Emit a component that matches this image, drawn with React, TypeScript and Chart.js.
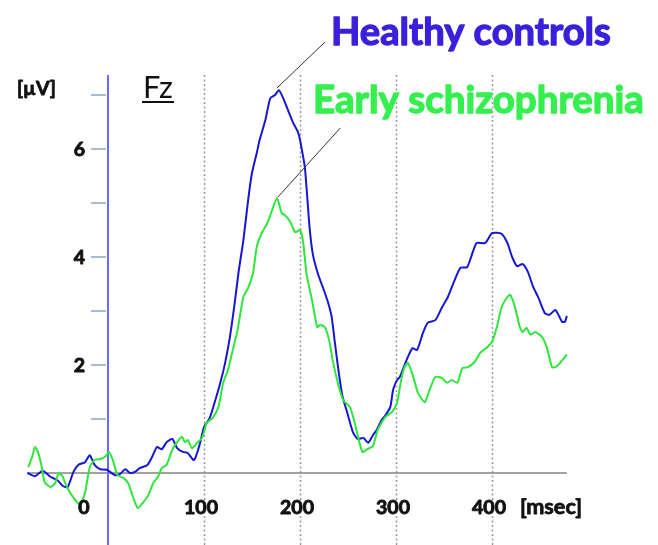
import React, { useEffect, useRef } from "react";
import { Chart, registerables } from "chart.js";

Chart.register(...registerables);

// ---- Data (ms, µV) ----
const timesHC = [
  -84, -76, -68, -60, -53, -47, -42, -36, -31, -24, -19, -14, -8, -1, 7, 12.5, 18, 23, 28, 33, 41, 46, 51, 56, 61, 67,
  72, 78, 83, 89, 91, 96, 100, 106, 111, 117, 122, 127, 132, 136, 141, 146, 150, 155, 158, 164, 169, 174, 178, 182,
  187.5, 193, 198, 200, 205, 207, 210, 213.5, 219, 224, 229, 233, 236, 240, 244, 249, 255, 260, 266, 271, 276, 280,
  285, 289, 294, 297, 301, 304, 307, 311, 317, 322, 328, 333, 341, 348, 354, 359, 367, 374, 379, 384, 393, 400, 410,
  416, 421, 426, 432, 437.5, 443, 448, 455, 460, 466, 473, 476, 478,
];
const healthy = [
  0, -0.06, 0.04, -0.07, -0.13, -0.24, -0.26, 0.02, 0.15, 0.2, 0.33, 0.15, 0.07, 0.06, -0.04, -0.02, 0.07, 0, 0.02,
  0.09, 0.15, 0.3, 0.48, 0.44, 0.57, 0.63, 0.46, 0.39, 0.37, 0.24, 0.28, 0.56, 0.85, 1.02, 1.3, 1.67, 2.04, 2.52, 3.15,
  3.72, 4.31, 5.06, 5.56, 5.93, 6.17, 6.54, 6.94, 7.0, 7.09, 6.96, 6.72, 6.48, 6.31, 6.17, 5.67, 5.24, 4.54, 4.04, 3.67,
  3.43, 3.17, 2.89, 2.46, 1.91, 1.44, 1.13, 0.76, 0.63, 0.65, 0.56, 0.7, 0.8, 0.98, 1.07, 1.22, 1.54, 1.72, 1.78, 1.91,
  2.09, 2.31, 2.28, 2.59, 2.78, 2.83, 3.07, 3.26, 3.48, 3.8, 3.81, 4.04, 4.26, 4.26, 4.44, 4.43, 4.26, 4.0, 3.83, 3.87,
  3.72, 3.44, 3.26, 2.96, 2.93, 3.02, 2.8, 2.8, 2.91,
];

const timesES = [
  -83, -79, -76, -73, -69, -66, -60, -55, -52, -48, -45, -40, -34, -29, -24, -19, -14, -8, -3, 1, 5, 10, 16, 21, 26,
  31, 36, 42, 47, 52, 56, 61, 67, 72, 77, 80, 83, 87.5, 93, 98, 103, 109, 115, 120, 125, 130, 135, 141, 146, 151, 155,
  160, 166, 171, 176, 181, 184, 190, 195, 200, 203, 207, 212.5, 218, 221, 226, 231, 234, 240, 245, 252, 257, 260, 265,
  270, 276, 281, 289, 296, 301, 306, 309, 312.5, 318, 323, 330, 335, 341, 348, 353, 358, 364, 369, 375, 382, 387.5,
  395, 400, 405, 410, 416, 419, 424, 429, 432, 436, 440, 445, 452, 457, 462.5, 466, 471, 478,
];
const early = [
  0.11, 0.3, 0.48, 0.39, 0.11, -0.17, -0.26, -0.19, -0.02, -0.04, -0.17, -0.35, -0.5, -0.59, -0.37, 0.11, 0.24, 0.26,
  0.3, 0.39, 0.24, -0.04, -0.09, -0.19, -0.44, -0.65, -0.56, -0.41, -0.19, -0.07, 0.09, 0.15, 0.43, 0.57, 0.67, 0.57,
  0.61, 0.46, 0.56, 0.65, 0.93, 1.02, 1.22, 1.67, 1.91, 2.28, 2.65, 3.26, 3.43, 3.7, 4.19, 4.44, 4.63, 4.87, 5.09, 4.81,
  4.78, 4.65, 4.46, 4.5, 4.31, 3.67, 3.2, 2.7, 2.74, 2.7, 2.41, 2.09, 1.63, 1.35, 1.22, 0.93, 0.7, 0.39, 0.44, 0.5, 0.8,
  1.04, 1.13, 1.3, 1.78, 1.96, 2.04, 1.78, 1.48, 1.31, 1.54, 1.78, 1.76, 1.67, 1.72, 1.67, 1.94, 1.96, 2.06, 2.22, 2.33,
  2.43, 2.7, 3.07, 3.26, 3.3, 3.07, 2.7, 2.61, 2.69, 2.56, 2.61, 2.52, 2.33, 1.96, 1.96, 2.04, 2.19,
];

const xTicks = [0, 100, 200, 300, 400];
const xTickLabels = ["0", "100", "200", "300", "400"];
const yMajorTicks = [2, 4, 6];
const yMinorTicks = [1, 3, 5, 7];
const seriesNames = ["Healthy controls", "Early schizophrenia"];
// callouts: [fromMs, fromUv, toMs, toUv]
const calloutHC = [176, 7.13, 226, 7.98];
const calloutES = [177, 5.11, 242, 6.39];

const BLUE_LINE = "#1616d4";
const GREEN_LINE = "#2ee63c";
const BLUE_TEXT = "#3a20dc";
const GREEN_TEXT = "#34ef4e";
const FONT = "Lato, 'Open Sans', sans-serif";

function fitSize(ctx: CanvasRenderingContext2D, text: string, weight: string, width: number) {
  ctx.font = `${weight} 100px ${FONT}`;
  const w = ctx.measureText(text).width;
  return (100 * width) / w;
}

function boldText(ctx: CanvasRenderingContext2D, text: string, x: number, y: number, extra: number) {
  ctx.lineJoin = "round";
  ctx.strokeStyle = ctx.fillStyle as string;
  ctx.lineWidth = extra;
  ctx.strokeText(text, x, y);
  ctx.fillText(text, x, y);
}

const decorPlugin = {
  id: "decor",
  beforeDatasetsDraw(chart: any) {
    const ctx: CanvasRenderingContext2D = chart.ctx;
    const xs = chart.scales.x;
    const ys = chart.scales.y;
    const H = chart.height;
    ctx.save();
    // dashed grid lines
    ctx.strokeStyle = "#9a9a9a";
    ctx.lineWidth = 1.5;
    ctx.setLineDash([2, 2.5]);
    xTicks.forEach((v) => {
      if (v === 0) return;
      const px = Math.round(xs.getPixelForValue(v)) + 0.5;
      ctx.beginPath();
      ctx.moveTo(px, 75);
      ctx.lineTo(px, H);
      ctx.stroke();
    });
    ctx.setLineDash([]);
    // zero line
    ctx.strokeStyle = "#858585";
    ctx.lineWidth = 1.6;
    const y0 = ys.getPixelForValue(0);
    ctx.beginPath();
    ctx.moveTo(xs.getPixelForValue(timesHC[0]), y0);
    ctx.lineTo(xs.getPixelForValue(timesHC[timesHC.length - 1]), y0);
    ctx.stroke();
    // y axis (blue) at 0 ms
    const ax = xs.getPixelForValue(0);
    ctx.strokeStyle = "#6a6af5";
    ctx.lineWidth = 2;
    ctx.beginPath();
    ctx.moveTo(ax, 75);
    ctx.lineTo(ax, H);
    ctx.stroke();
    // y ticks
    ctx.strokeStyle = "#8ea6c4";
    ctx.lineWidth = 1.5;
    [...yMajorTicks, ...yMinorTicks].forEach((v) => {
      const py = ys.getPixelForValue(v);
      ctx.beginPath();
      ctx.moveTo(ax - 17, py);
      ctx.lineTo(ax - 2, py);
      ctx.stroke();
    });
    ctx.restore();
  },
  afterDatasetsDraw(chart: any) {
    const ctx: CanvasRenderingContext2D = chart.ctx;
    const xs = chart.scales.x;
    const ys = chart.scales.y;
    const ax = xs.getPixelForValue(0);
    ctx.save();
    // callout lines
    ctx.strokeStyle = "#333";
    ctx.lineWidth = 1;
    [calloutHC, calloutES].forEach((c) => {
      ctx.beginPath();
      ctx.moveTo(xs.getPixelForValue(c[0]), ys.getPixelForValue(c[1]));
      ctx.lineTo(xs.getPixelForValue(c[2]), ys.getPixelForValue(c[3]));
      ctx.stroke();
    });
    // tick labels
    const tickSize = fitSize(ctx, "100", "bold", 34);
    ctx.fillStyle = "#111";
    ctx.font = `bold ${tickSize}px ${FONT}`;
    ctx.textBaseline = "middle";
    ctx.textAlign = "right";
    yMajorTicks.forEach((v) => {
      boldText(ctx, String(v), ax - 23, ys.getPixelForValue(v) + 1, 0.9);
    });
    ctx.textAlign = "center";
    xTicks.forEach((v, i) => {
      const shift = v === 0 ? -24 : -3;
      boldText(ctx, xTickLabels[i], xs.getPixelForValue(v) + shift, 508, 0.9);
    });
    ctx.textAlign = "left";
    ctx.font = `bold ${fitSize(ctx, "[msec]", "bold", 62)}px ${FONT}`;
    boldText(ctx, "[msec]", 520, 507, 0.8);
    ctx.font = `bold ${fitSize(ctx, "[µV]", "bold", 39)}px ${FONT}`;
    boldText(ctx, "[µV]", 17, 89, 0.8);
    // Fz
    ctx.textBaseline = "alphabetic";
    ctx.font = `normal ${fitSize(ctx, "Fz", "normal", 30)}px ${FONT}`;
    ctx.fillText("Fz", 143, 98);
    ctx.fillRect(142, 101, 32, 2);
    // series labels
    ctx.fillStyle = BLUE_TEXT;
    ctx.font = `bold ${fitSize(ctx, seriesNames[0], "bold", 280)}px ${FONT}`;
    boldText(ctx, seriesNames[0], 331, 45, 1.3);
    ctx.fillStyle = GREEN_TEXT;
    ctx.font = `bold ${fitSize(ctx, seriesNames[1], "bold", 331)}px ${FONT}`;
    boldText(ctx, seriesNames[1], 313, 113, 1.3);
    ctx.restore();
  },
};

export default function App() {
  const ref = useRef<HTMLCanvasElement>(null);
  useEffect(() => {
    if (!ref.current) return;
    const chart = new Chart(ref.current, {
      type: "line",
      data: {
        datasets: [
          {
            label: seriesNames[1],
            data: timesES.map((t, i) => ({ x: t, y: early[i] })),
            borderColor: GREEN_LINE,
            borderWidth: 2,
            pointRadius: 0,
            tension: 0.2,
            fill: false,
          },
          {
            label: seriesNames[0],
            data: timesHC.map((t, i) => ({ x: t, y: healthy[i] })),
            borderColor: BLUE_LINE,
            borderWidth: 2,
            pointRadius: 0,
            tension: 0.2,
            fill: false,
          },
        ],
      },
      options: {
        responsive: false,
        animation: false,
        devicePixelRatio: 1,
        layout: { padding: { left: 12, right: 70, top: 68, bottom: 0 } },
        scales: {
          x: { type: "linear", min: -100, max: 500, display: false },
          y: { type: "linear", min: -4 / 3, max: 7.5, display: false },
        },
        plugins: { legend: { display: false }, tooltip: { enabled: false } },
      },
      plugins: [decorPlugin],
    } as any);
    return () => chart.destroy();
  }, []);
  return (
    <div style={{ position: "absolute", left: 0, top: 0, width: 658, height: 545, background: "#fff" }}>
      <canvas ref={ref} width={658} height={545} style={{ display: "block", width: 658, height: 545 }} />
    </div>
  );
}
